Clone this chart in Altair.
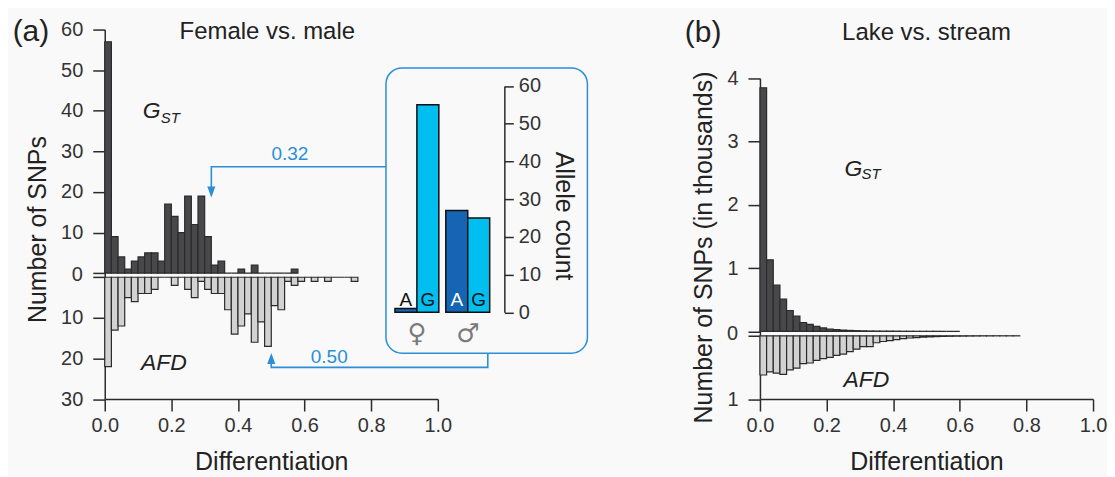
import altair as alt
import pandas as pd

BIN = 0.02
# panel (a): female vs. male, counts per 0.02 bin
gst_a = [57, 9, 4, 1, 3, 4, 5, 5, 3, 17, 14, 10, 19, 12, 19, 9, 2, 3, 0, 0,
         1, 0, 2, 0, 0, 0, 0, 0, 1]
afd_a = [22, 13, 12, 5, 6, 4, 4, 3, 0, 0, 2, 0, 3, 5, 1, 3, 4, 4, 8, 14,
         12, 9, 16, 11, 17, 7, 8, 1, 2, 1, 0, 1, 0, 1, 0, 0, 0, 1]
# panel (b): lake vs. stream, thousands of SNPs per 0.02 bin
gst_b = [3.85, 1.13, 0.73, 0.51, 0.33, 0.24, 0.14, 0.11, 0.08, 0.055, 0.037,
         0.026, 0.02, 0.015, 0.011, 0.008, 0.006, 0.005, 0.004, 0.003, 0.003,
         0.002, 0.002, 0.001, 0.001, 0.001, 0.001, 0.0, 0.0, 0.0]
afd_b = [0.62, 0.57, 0.59, 0.61, 0.54, 0.51, 0.44, 0.43, 0.39, 0.36, 0.34,
         0.31, 0.29, 0.25, 0.21, 0.17, 0.17, 0.11, 0.09, 0.075, 0.06, 0.045,
         0.035, 0.028, 0.022, 0.017, 0.013, 0.01, 0.008, 0.006, 0.005, 0.004,
         0.003, 0.002, 0.002, 0.001, 0.001, 0.001, 0.001]
# inset: allele counts at one SNP
sexes = ["\u2640", "\u2640", "\u2642", "\u2642"]
alleles = ["A", "G", "A", "G"]
allele_counts = [1, 55, 27, 25]
x_ticks = [0, 0.2, 0.4, 0.6, 0.8, 1.0]
gst_marker, afd_marker = 0.32, 0.50

FONT = "Liberation Sans"
BLUE = "#2a8fd6"
DARK = "#48484b"
LIGHT = "#d2d2d2"
LINE = "#2b2b2b"
TXT = "#333333"

GAP_A = 1.0
GAP_B = 0.07


def bars(counts, top, gap):
    rows = []
    for i, c in enumerate(counts):
        x0, x1 = round(i * BIN, 4), round((i + 1) * BIN, 4)
        if top:
            rows.append(dict(x=x0, x2=x1, y=0.0, y2=c))
        else:
            rows.append(dict(x=x0, x2=x1, y=-gap, y2=-(gap + c)))
    return pd.DataFrame(rows)


one = pd.DataFrame({"d": [0]})


def fixed_text(text, x, y, size, **kw):
    return alt.Chart(one).mark_text(text=text, fontSize=size, font=FONT, **kw).encode(
        x=alt.value(x), y=alt.value(y))


def xaxis():
    return alt.Axis(values=x_ticks, format=".1f", tickSize=12, labelFontSize=20,
                    labelPadding=5, title="Differentiation", titleFontSize=25,
                    titlePadding=14, labelFlush=False, labelOverlap=False)


# ---------------- panel (a) ----------------
xa = alt.Scale(domain=[0, 1], range=[0, 334], nice=False, zero=False)
ya = alt.Scale(domain=[-31, 60], range=[370.5, 0], nice=False, zero=False)
ya_vals = [60, 50, 40, 30, 20, 10, 0, -1, -11, -21, -31]
ya_axis = alt.Axis(
    values=ya_vals, tickSize=12, labelFontSize=20, labelPadding=10,
    labelOverlap=False, title="Number of SNPs", titleFontSize=25, titlePadding=10,
    titleY=200,
    labelExpr="datum.value == 0 || datum.value == -1 ? '' : "
              "(datum.value > 0 ? format(datum.value, 'd') : format(-(datum.value + 1), 'd'))",
)
XA = alt.X("x:Q", scale=xa, axis=xaxis())
YA = alt.Y("y:Q", scale=ya, axis=ya_axis)


def main_text(text, x, y, size, **kw):
    return alt.Chart(pd.DataFrame({"x": [x], "y": [y]})).mark_text(
        text=text, fontSize=size, font=FONT, **kw).encode(x=XA, y=YA)


gst_a_bars = alt.Chart(bars(gst_a, True, GAP_A)).mark_rect(
    fill=DARK, stroke=LINE, strokeWidth=1.2).encode(x=XA, x2="x2", y=YA, y2="y2")
afd_a_bars = alt.Chart(bars(afd_a, False, GAP_A)).mark_rect(
    fill=LIGHT, stroke=LINE, strokeWidth=1.2).encode(x=XA, x2="x2", y=YA, y2="y2")

conn_top = alt.Chart(pd.DataFrame({"x": [gst_marker, gst_marker, 0.844],
                                   "y": [20.0, 26.2, 26.2], "o": [0, 1, 2]})).mark_line(
    color=BLUE, strokeWidth=1.6).encode(x=XA, y=YA, order="o:Q")
conn_bot = alt.Chart(pd.DataFrame({"x": [afd_marker, afd_marker, 1.15, 1.15],
                                   "y": [-21.0, -23.2, -23.2, -19.7], "o": [0, 1, 2, 3]})).mark_line(
    color=BLUE, strokeWidth=1.6).encode(x=XA, y=YA, order="o:Q")
arrow_dn = alt.Chart(pd.DataFrame({"x": [gst_marker], "y": [20.0]})).mark_point(
    shape="M-0.74,-1L0.74,-1L0,1Z", size=121, filled=True, color=BLUE, opacity=1).encode(x=XA, y=YA)
arrow_up = alt.Chart(pd.DataFrame({"x": [afd_marker], "y": [-21.0]})).mark_point(
    shape="M-0.74,1L0.74,1L0,-1Z", size=121, filled=True, color=BLUE, opacity=1).encode(x=XA, y=YA)
zero_a = alt.Chart(pd.DataFrame({"y": [-GAP_A / 2]})).mark_text(
    text="0", align="right", baseline="middle", fontSize=20, font=FONT, color=TXT).encode(
    x=alt.value(-22), y=YA)

ann_a = [
    main_text("0.32", 0.556, 29.4, 19, color=BLUE, baseline="middle"),
    main_text("0.50", 0.674, -20.6, 19, color=BLUE, baseline="middle"),
    main_text("G", 0.114, 38.3, 23, align="left", baseline="alphabetic", fontStyle="italic", color="#222"),
    main_text("ST", 0.168, 37.0, 15, align="left", baseline="alphabetic", fontStyle="italic", color="#222"),
    main_text("AFD", 0.109, -23.9, 23, align="left", baseline="alphabetic", fontStyle="italic", color="#222"),
    fixed_text("Female vs. male", 163, 2, 24, baseline="middle", color="#222"),
    fixed_text("(a)", -74, 2, 30, baseline="middle", color="#222"),
]

main_a = alt.layer(gst_a_bars, afd_a_bars, conn_top, conn_bot, arrow_dn, arrow_up, zero_a, *ann_a)

inset_df = pd.DataFrame({"sex": sexes, "allele": alleles, "count": allele_counts})
IX = alt.X("sex:N", scale=alt.Scale(domain=["\u2640", "\u2642"], range=[291, 386],
                                    paddingInner=0.137, paddingOuter=0),
           axis=alt.Axis(orient="bottom", offset=-87, domain=False, ticks=False, tickSize=0,
                         labelFontSize=26, labelColor="#7a7a7a", labelPadding=8,
                         labelAngle=0, title=None, labelFont="DejaVu Sans"))
IXO = alt.XOffset("allele:N", scale=alt.Scale(paddingInner=0, paddingOuter=0))
iy_scale = alt.Scale(domain=[0, 60], range=[283.5, 56.5], nice=False)
iy_axis = alt.Axis(orient="right", offset=-89.3, values=[0, 10, 20, 30, 40, 50, 60],
                   tickSize=9, labelFontSize=20, labelPadding=5,
                   title="Allele count", titleFontSize=25, titleAngle=90,
                   titlePadding=10, titleY=186.5)
inset_bars = alt.Chart(inset_df).mark_bar(stroke="#111", strokeWidth=1.5).encode(
    x=IX, xOffset=IXO, y=alt.Y("count:Q", scale=iy_scale, axis=iy_axis),
    color=alt.Color("allele:N", scale=alt.Scale(domain=["A", "G"], range=["#1565b4", "#00bff0"]),
                    legend=None))
inset_text = alt.Chart(inset_df).transform_calculate(base="0").mark_text(
    fontSize=19, font=FONT, baseline="alphabetic", dy=-6.5).encode(
    x=IX, xOffset=IXO, y=alt.Y("base:Q", scale=iy_scale, axis=iy_axis), text="allele:N",
    color=alt.condition("datum.sex == '\u2642' && datum.allele == 'A'",
                        alt.value("white"), alt.value("#111")))
box = alt.Chart(one).mark_rect(filled=False, stroke=BLUE, strokeWidth=1.5, cornerRadius=16).encode(
    x=alt.value(282), x2=alt.value(484), y=alt.value(38.5), y2=alt.value(324.5))

inset = alt.layer(box, inset_bars, inset_text)

panel_a = alt.layer(main_a, inset).resolve_scale(
    x="independent", y="independent").properties(width=490, height=370.5)

# ---------------- panel (b) ----------------
xb = alt.Scale(domain=[0, 1], range=[0, 334], nice=False, zero=False)
yb = alt.Scale(domain=[-1 - GAP_B, 4], range=[370.5, 48.8], nice=False, zero=False)
yb_vals = [4, 3, 2, 1, 0, -GAP_B, -1 - GAP_B]
yb_axis = alt.Axis(
    values=yb_vals, tickSize=12, labelFontSize=20, labelPadding=10, labelOverlap=False,
    title="Number of SNPs (in thousands)", titleFontSize=25, titlePadding=10, titleY=218,
    labelExpr=f"abs(datum.value) < 0.001 || abs(datum.value + {GAP_B}) < 0.001 ? '' : "
              f"(datum.value > 0 ? format(datum.value, 'd') : format(-(datum.value + {GAP_B}), '.0f'))",
)
XB = alt.X("x:Q", scale=xb, axis=xaxis())
YB = alt.Y("y:Q", scale=yb, axis=yb_axis)


def b_text(text, x, y, size, **kw):
    return alt.Chart(pd.DataFrame({"x": [x], "y": [y]})).mark_text(
        text=text, fontSize=size, font=FONT, **kw).encode(x=XB, y=YB)


gst_b_bars = alt.Chart(bars(gst_b, True, GAP_B)).mark_rect(
    fill=DARK, stroke=LINE, strokeWidth=1.2).encode(x=XB, x2="x2", y=YB, y2="y2")
afd_b_bars = alt.Chart(bars(afd_b, False, GAP_B)).mark_rect(
    fill=LIGHT, stroke=LINE, strokeWidth=1.2).encode(x=XB, x2="x2", y=YB, y2="y2")
zero_b = alt.Chart(pd.DataFrame({"y": [-GAP_B / 2]})).mark_text(
    text="0", align="right", baseline="middle", fontSize=20, font=FONT, color=TXT).encode(
    x=alt.value(-22), y=YB)
ann_b = [
    b_text("G", 0.254, 2.46, 23, align="left", baseline="alphabetic", fontStyle="italic", color="#222"),
    b_text("ST", 0.305, 2.40, 15, align="left", baseline="alphabetic", fontStyle="italic", color="#222"),
    b_text("AFD", 0.251, -0.886, 23, align="left", baseline="alphabetic", fontStyle="italic", color="#222"),
    fixed_text("Lake vs. stream", 167, 3.5, 24, baseline="middle", color="#222"),
    fixed_text("(b)", -57, 3.5, 30, baseline="middle", color="#222"),
]
panel_b = alt.layer(gst_b_bars, afd_b_bars, zero_b, *ann_b).properties(width=334, height=370.5)

chart = alt.hconcat(panel_a, panel_b, spacing=91).properties(
    background="#f9f9f9", padding={"left": 4, "top": 8, "right": 0, "bottom": 0}
).configure_view(strokeWidth=0).configure_axis(
    labelFont=FONT, titleFont=FONT, titleFontWeight="normal", grid=False,
    domainColor=LINE, tickColor=LINE, labelColor=TXT, titleColor="#222",
    domainWidth=1.5, tickWidth=1.5)

chart.save("out.html", embed_options={"renderer": "svg", "actions": False})
